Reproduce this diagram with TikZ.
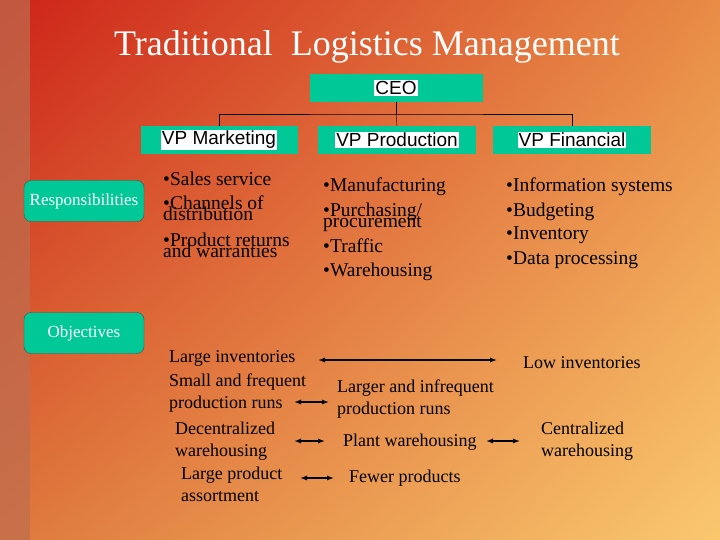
\documentclass[tikz,border=0pt]{standalone}
\usepackage{fontspec}
\usetikzlibrary{shadings,arrows.meta}
\setmainfont{Liberation Serif}
\newfontfamily\arialf{Liberation Sans}
\tikzset{
 vp/.style={fill=boxteal,minimum height=28pt,inner sep=0pt},
 lab/.style={fill=white,inner sep=1pt,font=\arialf\fontsize{19}{19}\selectfont},
 side/.style={fill=boxteal,draw=black!70,rounded corners=7pt,minimum width=120pt,minimum height=41pt,text=white,font=\fontsize{17}{17}\selectfont},
 tx/.style={anchor=base west,inner sep=0pt,font=\fontsize{19.5}{19.5}\selectfont},
 ob/.style={anchor=base west,inner sep=0pt,font=\fontsize{18}{18}\selectfont},
 dbl/.style={{Latex[length=7pt,width=5pt]}-{Latex[length=7pt,width=5pt]},line width=1.3pt}
}
\definecolor{boxteal}{RGB}{0,200,150}
\definecolor{c1}{RGB}{205,35,25}
\definecolor{c2}{RGB}{232,140,70}
\definecolor{c3}{RGB}{222,120,60}
\definecolor{c4}{RGB}{250,200,110}
\definecolor{strip}{RGB}{190,110,80}
\begin{document}
\begin{tikzpicture}[x=1pt,y=-1pt]
\useasboundingbox (0,0) rectangle (720,540);
\shade[upper left=c1,upper right=c2,lower left=c3,lower right=c4] (0,0) rectangle (720,540);
\fill[strip,opacity=0.7] (0,0) rectangle (30,540);
\node[font=\fontsize{36}{36}\selectfont,text=white] (title) at (367,47) {Traditional\ \ Logistics Management};
\node[vp,minimum width=173pt] (ceo) at (396,88) {};
\node[lab] at (ceo) {CEO};
\node[vp,minimum width=157pt] (m) at (219,140) {};
\node[lab] at (m) {VP Marketing};
\node[vp,minimum width=158pt] (p) at (397,140) {};
\node[lab] at (p) {VP Production};
\node[vp,minimum width=158pt] (f) at (572,140) {};
\node[lab] at (f) {VP Financial};
\coordinate (j) at (396,114);
\draw (ceo.south) -- (j);
\draw (m.north) |- (j) -| (f.north);
\draw (j) -- (p.north);
\node[side] (resp) at (84,201) {Responsibilities};
\node[side] (obj) at (84,333) {Objectives};
% column 1
\node[tx] (a1) at (163,186) {•Sales service};
\node[tx] (a2) at (163,210) {•Channels of};
\node[tx] (a3) at (163,221) {distribution};
\node[tx] (a4) at (163,246) {•Product returns};
\node[tx] (a5) at (163,257) {and warranties};
% column 2
\node[tx] (b1) at (323,192) {•Manufacturing};
\node[tx] (b2) at (323,216) {•Purchasing/};
\node[tx] (b3) at (323,228) {procurement};
\node[tx] (b4) at (323,252) {•Traffic};
\node[tx] (b5) at (323,276) {•Warehousing};
% column 3
\node[tx] (c1n) at (506,192) {•Information systems};
\node[tx] (c2n) at (506,216) {•Budgeting};
\node[tx] (c3n) at (506,240) {•Inventory};
\node[tx] (c4n) at (506,264) {•Data processing};
% objectives
\node[ob] (o1) at (169,362) {Large inventories};
\node[ob] (o2) at (523,368) {Low inventories};
\node[ob] (o3) at (169,386) {Small and frequent};
\node[ob] (o4) at (169,408) {production runs};
\node[ob] (o5) at (337,392) {Larger and infrequent};
\node[ob] (o6) at (337,414) {production runs};
\node[ob] (o7) at (175,434) {Decentralized};
\node[ob] (o8) at (175,456) {warehousing};
\node[ob] (o9) at (343,446) {Plant warehousing};
\node[ob] (o10) at (541,434) {Centralized};
\node[ob] (o11) at (541,456) {warehousing};
\node[ob] (o12) at (181,479) {Large product};
\node[ob] (o13) at (181,501) {assortment};
\node[ob] (o14) at (349,482) {Fewer products};
\coordinate (e1) at (318,360); \coordinate (e2) at (497,360);
\coordinate (e3) at (294,402); \coordinate (e4) at (329,402);
\coordinate (e5) at (294,441); \coordinate (e6) at (325,441);
\coordinate (e7) at (486,441); \coordinate (e8) at (520,441);
\coordinate (e9) at (300,478); \coordinate (e10) at (334,478);
\draw[dbl] (e1) -- (e2);
\draw[dbl] (e3) -- (e4);
\draw[dbl] (e5) -- (e6);
\draw[dbl] (e7) -- (e8);
\draw[dbl] (e9) -- (e10);
\end{tikzpicture}
\end{document}
